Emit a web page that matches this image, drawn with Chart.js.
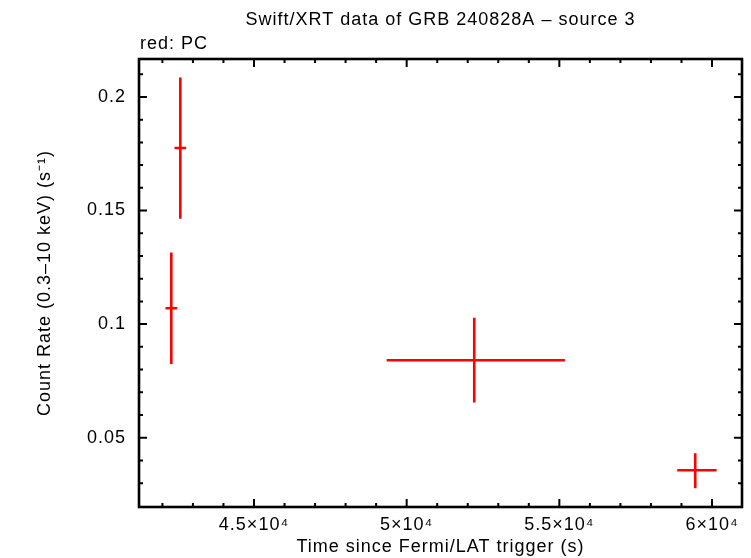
<!DOCTYPE html>
<html>
<head>
<meta charset="utf-8">
<script src="https://cdn.jsdelivr.net/npm/chart.js@4"></script>
<style>
  html, body { margin: 0; padding: 0; background: #fff; }
</style>
</head>
<body>
<canvas id="lcChart" width="751" height="558"></canvas>
<script>
// light curve points (time since trigger, count rate) with asymmetric errors
let timeMid = [42292, 42587, 52213, 59450];
let timeErrLo = [190, 190, 2868, 589];
let timeErrHi = [190, 190, 2970, 701];
let rate = [0.107, 0.1775, 0.0841, 0.0357];
let rateErrLo = [0.0246, 0.0311, 0.0186, 0.0079];
let rateErrHi = [0.0245, 0.0311, 0.0187, 0.0075];

let xTickValues = [45000, 50000, 55000, 60000];
let xTickLabels = ['4.5×10⁴', '5×10⁴', '5.5×10⁴', '6×10⁴'];
let xMinorTicks = [42000, 43000, 44000, 46000, 47000, 48000, 49000, 51000, 52000, 53000, 54000, 56000, 57000, 58000, 59000];
let yTickValues = [0.05, 0.1, 0.15, 0.2];
let yTickLabels = ['0.05', '0.1', '0.15', '0.2'];
let yMinorTicks = [0.03, 0.04, 0.06, 0.07, 0.08, 0.09, 0.11, 0.12, 0.13, 0.14, 0.16, 0.17, 0.18, 0.19, 0.21];

let ctx = document.getElementById('lcChart').getContext('2d');

Chart.defaults.font.family = '"Liberation Sans", Arial, Helvetica, sans-serif';
Chart.defaults.font.size = 18;
Chart.defaults.color = '#000';

// the original plot font is rather wide, so space the letters a bit
const wideText = {
    id: 'wideText',
    beforeUpdate(chart) { chart.ctx.letterSpacing = '1px'; },
    beforeDraw(chart) { chart.ctx.letterSpacing = '1px'; }
};

// frame with inward ticks on all sides, plus the error bar crosses
const frameAndErrors = {
    id: 'frameAndErrors',
    afterDatasetsDraw(chart) {
        let c = chart.ctx;
        let a = chart.chartArea;
        let xs = chart.scales.x;
        let ys = chart.scales.y;
        c.save();

        c.strokeStyle = '#ff0000';
        c.lineWidth = 2.6;
        for (let i = 0; i < timeMid.length; i++) {
            let px = xs.getPixelForValue(timeMid[i]);
            let py = ys.getPixelForValue(rate[i]);
            c.beginPath();
            c.moveTo(xs.getPixelForValue(timeMid[i] - timeErrLo[i]), py);
            c.lineTo(xs.getPixelForValue(timeMid[i] + timeErrHi[i]), py);
            c.moveTo(px, ys.getPixelForValue(rate[i] - rateErrLo[i]));
            c.lineTo(px, ys.getPixelForValue(rate[i] + rateErrHi[i]));
            c.stroke();
        }

        c.strokeStyle = '#000';
        c.lineWidth = 2;
        c.beginPath();
        function xTick(v, len) {
            let px = xs.getPixelForValue(v);
            c.moveTo(px, a.bottom); c.lineTo(px, a.bottom - len);
            c.moveTo(px, a.top); c.lineTo(px, a.top + len);
        }
        function yTick(v, len) {
            let py = ys.getPixelForValue(v);
            c.moveTo(a.left, py); c.lineTo(a.left + len, py);
            c.moveTo(a.right, py); c.lineTo(a.right - len, py);
        }
        xTickValues.forEach(v => xTick(v, 8));
        xMinorTicks.forEach(v => xTick(v, 4));
        yTickValues.forEach(v => yTick(v, 8));
        yMinorTicks.forEach(v => yTick(v, 4));
        c.stroke();

        c.lineWidth = 2.6;
        c.strokeRect(a.left, a.top, a.right - a.left, a.bottom - a.top);

        c.fillStyle = '#000';
        c.font = '18px "Liberation Sans", Arial, sans-serif';
        c.textAlign = 'left';
        c.textBaseline = 'alphabetic';
        c.fillText('red: PC', a.left + 1, a.top - 10);
        c.restore();
    }
};

let chart = new Chart(ctx, {
    type: 'scatter',
    data: {
        datasets: [{
            label: 'PC',
            data: timeMid.map((t, i) => ({ x: t, y: rate[i] })),
            pointRadius: 0,
            showLine: false
        }]
    },
    options: {
        responsive: false,
        animation: false,
        layout: { padding: { left: 0, right: 9, top: 0, bottom: 0 } },
        plugins: {
            legend: { display: false },
            tooltip: { enabled: false },
            title: {
                display: true,
                fullSize: false,
                text: 'Swift/XRT data of GRB 240828A \u2013 source 3',
                font: { size: 18, weight: 'normal' },
                color: '#000',
                padding: { top: 9, bottom: 28.4 }
            }
        },
        scales: {
            x: {
                type: 'linear',
                min: 41234,
                max: 60982,
                bounds: 'data',
                grid: { display: false, drawTicks: false },
                border: { display: false },
                afterBuildTicks: s => { s.ticks = xTickValues.map(v => ({ value: v })); },
                afterFit: s => { s.height = 51; },
                ticks: {
                    autoSkip: false,
                    maxRotation: 0,
                    padding: 7.6,
                    callback: v => xTickLabels[xTickValues.indexOf(v)]
                },
                title: {
                    display: true,
                    text: 'Time since Fermi/LAT trigger (s)',
                    padding: { top: 2.2, bottom: 0 }
                }
            },
            y: {
                type: 'linear',
                min: 0.0195,
                max: 0.2167,
                bounds: 'data',
                grid: { display: false, drawTicks: false },
                border: { display: false },
                afterBuildTicks: s => { s.ticks = yTickValues.map(v => ({ value: v })); },
                afterFit: s => { s.width = 139; },
                ticks: {
                    autoSkip: false,
                    padding: 13,
                    callback: v => yTickLabels[yTickValues.indexOf(v)]
                },
                title: {
                    display: true,
                    text: 'Count Rate (0.3\u201310 keV) (s\u207B\u00B9)',
                    padding: { top: 34.2, bottom: 0 }
                }
            }
        }
    },
    plugins: [wideText, frameAndErrors]
});
</script>
</body>
</html>
